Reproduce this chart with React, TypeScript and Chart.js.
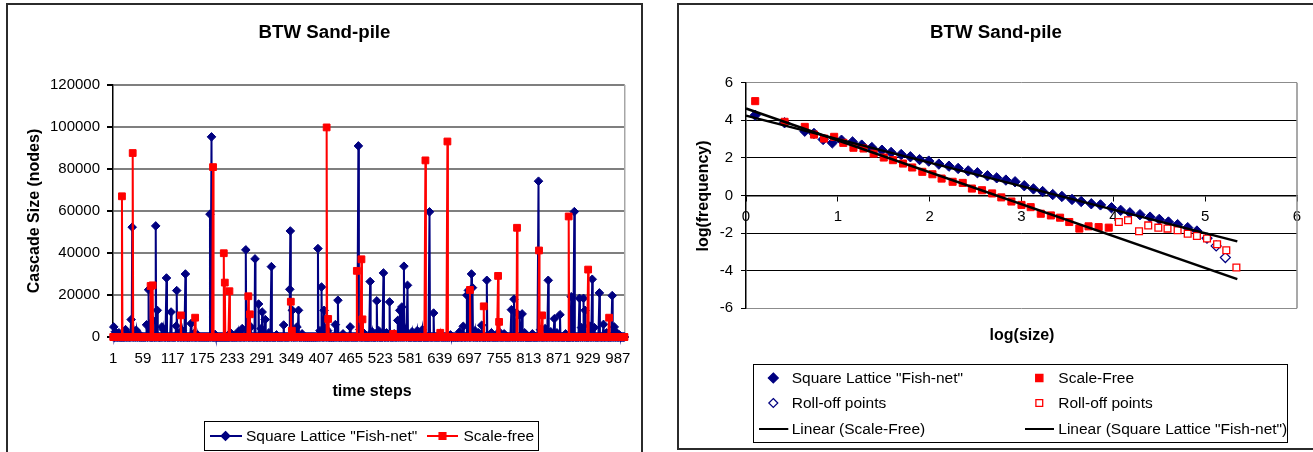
import { useEffect, useRef } from 'react';
import { Chart, registerables } from 'chart.js';

Chart.register(...registerables);

const FONT = "'Liberation Sans', Arial, Helvetica, sans-serif";
const NAVY = '#000080';
const RED = '#ff0000';

// ---------- Left chart: cascade sizes over time ----------
const timeSteps = 1000;
const timeTickLabels = [1, 59, 117, 175, 233, 291, 349, 407, 465, 523, 581, 639, 697, 755, 813, 871, 929, 987];
const cascadeTicks = [0, 20000, 40000, 60000, 80000, 100000, 120000];

// [time step, cascade size]; every other step is 0
const latticeCascades: [number, number][] = [
  [2, 4800], [5, 2500], [8, 1500], [12, 2000], [25, 3500], [30, 1500], [36, 8300], [38, 52300], [42, 2500], [46, 3200],
  [50, 1800], [66, 5800], [70, 22500], [72, 6000], [79, 7800], [84, 52900], [87, 12700], [96, 4800], [99, 3500], [105, 28100],
  [114, 11900], [124, 5200], [125, 22100], [130, 2000], [136, 3000], [142, 30000], [153, 6400], [158, 1500], [166, 1000],
  [190, 58500], [193, 95300], [200, 1200], [230, 2000], [245, 2500], [253, 4000], [260, 41500], [263, 3000], [270, 4800],
  [278, 37200], [285, 15700], [290, 4000], [292, 11900], [298, 8300], [305, 2000], [310, 33500], [320, 1000], [334, 5700],
  [346, 22700], [347, 50500], [351, 12700], [356, 3000], [360, 4800], [363, 12700], [370, 1500], [401, 42100], [405, 3000],
  [408, 23800], [413, 12700], [416, 4000], [420, 3000], [435, 5900], [440, 17500], [450, 1500], [464, 4800], [480, 91000],
  [483, 3500], [490, 2000], [503, 26400], [507, 2500], [516, 17200], [520, 3000], [529, 30500], [535, 2000], [541, 16700],
  [550, 1500], [557, 7900], [561, 12700], [565, 14300], [569, 33700], [572, 3000], [576, 24600], [585, 2500], [595, 3000],
  [605, 3500], [619, 59600], [627, 11400], [640, 1500], [660, 1000], [678, 2500], [685, 5100], [692, 19900], [695, 22200],
  [701, 30000], [703, 23500], [708, 3000], [715, 2000], [721, 5600], [731, 27000], [740, 2000], [755, 2500], [765, 1500],
  [779, 13000], [784, 18000], [789, 11600], [795, 10300], [800, 11000], [805, 2000], [820, 1500], [832, 74200], [836, 3500],
  [845, 4000], [851, 27000], [856, 2500], [863, 8700], [868, 2000], [874, 10600], [885, 1500], [896, 19200], [902, 59700],
  [912, 18400], [916, 4500], [920, 18400], [923, 12700], [932, 5200], [937, 27500], [941, 4500], [951, 21000], [959, 6000],
  [965, 2000], [976, 19700], [980, 4800], [985, 2000], [990, 1000],
];
const scaleFreeCascades: [number, number][] = [
  [18, 67000], [39, 87600], [74, 24300], [78, 24600], [133, 10300], [161, 9200], [196, 80900], [217, 39900], [219, 25900],
  [228, 21800], [265, 19400], [268, 10800], [348, 16800], [350, 3000], [418, 99800], [421, 8600], [477, 31500], [486, 37000],
  [488, 8400], [548, 1500], [611, 84100], [640, 2000], [654, 93100], [698, 22400], [725, 14600], [753, 29100], [755, 7200],
  [790, 52000], [833, 41200], [839, 10300], [891, 57400], [929, 32100], [970, 9200],
];

// ---------- Right chart: log-log distribution ----------
const latticeLogSize = [0.10, 0.42, 0.64, 0.74, 0.84, 0.94, 1.04, 1.16, 1.26, 1.37, 1.48, 1.58, 1.69, 1.79, 1.89, 1.99, 2.10, 2.21, 2.31, 2.42, 2.52, 2.63, 2.73, 2.83, 2.93, 3.03, 3.13, 3.23, 3.34, 3.44, 3.55, 3.65, 3.76, 3.86, 3.98, 4.08, 4.18, 4.29, 4.40, 4.50, 4.60, 4.70, 4.81, 4.91];
const latticeLogFreq = [4.27, 3.87, 3.42, 3.30, 2.98, 2.80, 2.94, 2.85, 2.68, 2.55, 2.41, 2.29, 2.18, 2.06, 1.91, 1.83, 1.67, 1.56, 1.44, 1.31, 1.21, 1.05, 0.94, 0.82, 0.73, 0.52, 0.35, 0.21, 0.05, -0.05, -0.21, -0.32, -0.44, -0.50, -0.65, -0.79, -0.92, -1.02, -1.15, -1.27, -1.41, -1.55, -1.71, -1.89];
const latticeRollSize = [5.02, 5.12, 5.22];
const latticeRollFreq = [-2.27, -2.68, -3.30];
const scaleFreeLogSize = [0.10, 0.42, 0.64, 0.74, 0.85, 0.96, 1.06, 1.17, 1.28, 1.39, 1.50, 1.60, 1.71, 1.81, 1.92, 2.03, 2.13, 2.25, 2.36, 2.46, 2.57, 2.68, 2.78, 2.89, 3.00, 3.10, 3.21, 3.32, 3.42, 3.52, 3.63, 3.73, 3.84, 3.95];
const scaleFreeLogFreq = [5.02, 3.92, 3.65, 3.24, 3.03, 3.12, 2.80, 2.54, 2.50, 2.23, 2.02, 1.88, 1.70, 1.49, 1.26, 1.13, 0.90, 0.73, 0.67, 0.37, 0.28, 0.11, -0.10, -0.32, -0.50, -0.62, -0.97, -1.06, -1.18, -1.41, -1.76, -1.64, -1.68, -1.71];
const scaleFreeRollSize = [4.06, 4.16, 4.28, 4.38, 4.49, 4.59, 4.70, 4.81, 4.91, 5.02, 5.13, 5.23, 5.34];
const scaleFreeRollFreq = [-1.41, -1.32, -1.90, -1.59, -1.71, -1.76, -1.85, -2.03, -2.15, -2.29, -2.59, -2.91, -3.83];
const scaleFreeTrendSize = [0, 5.35];
const scaleFreeTrendFreq = [4.63, -4.45];
const latticeTrendSize = [0, 5.35];
const latticeTrendFreq = [4.25, -2.44];
const logSizeTicks = [0, 1, 2, 3, 4, 5, 6];
const logFreqTicks = [-6, -4, -2, 0, 2, 4, 6];

function expandSeries(spikes: [number, number][]) {
  const byStep = new Map<number, number>(spikes);
  const pts: { x: number; y: number }[] = [];
  for (let s = 1; s <= timeSteps; s++) pts.push({ x: s, y: byStep.get(s) ?? 0 });
  return pts;
}
function zip(xs: number[], ys: number[]) {
  return xs.map((x, i) => ({ x, y: ys[i] }));
}

function diamond(ctx: CanvasRenderingContext2D, x: number, y: number, r: number, fill: string | null, stroke: string) {
  ctx.beginPath();
  ctx.moveTo(x, y - r);
  ctx.lineTo(x + r, y);
  ctx.lineTo(x, y + r);
  ctx.lineTo(x - r, y);
  ctx.closePath();
  if (fill) { ctx.fillStyle = fill; ctx.fill(); }
  ctx.strokeStyle = stroke;
  ctx.lineWidth = 1.2;
  ctx.stroke();
}
function square(ctx: CanvasRenderingContext2D, x: number, y: number, h: number, fill: string | null, stroke: string) {
  ctx.beginPath();
  ctx.rect(x - h, y - h, 2 * h, 2 * h);
  if (fill) { ctx.fillStyle = fill; ctx.fill(); }
  ctx.strokeStyle = stroke;
  ctx.lineWidth = 1.3;
  ctx.stroke();
}
function hline(ctx: CanvasRenderingContext2D, x1: number, x2: number, y: number, color: string, w = 2) {
  ctx.beginPath();
  ctx.moveTo(x1, y);
  ctx.lineTo(x2, y);
  ctx.strokeStyle = color;
  ctx.lineWidth = w;
  ctx.stroke();
}
function vtext(ctx: CanvasRenderingContext2D, text: string, x: number, y: number) {
  ctx.save();
  ctx.translate(x, y);
  ctx.rotate(-Math.PI / 2);
  ctx.textAlign = 'center';
  ctx.fillText(text, 0, 0);
  ctx.restore();
}

const leftDecor = {
  id: 'leftDecor',
  beforeDatasetsDraw(chart: any) {
    const { ctx, chartArea: a } = chart;
    ctx.save();
    ctx.beginPath();
    ctx.moveTo(a.right, a.top);
    ctx.lineTo(a.right, a.bottom);
    ctx.strokeStyle = '#a6a6a6';
    ctx.lineWidth = 1.5;
    ctx.stroke();
    ctx.restore();
  },
  afterDraw(chart: any) {
    const ctx: CanvasRenderingContext2D = chart.ctx;
    ctx.save();
    ctx.fillStyle = '#000';
    ctx.textBaseline = 'alphabetic';
    ctx.textAlign = 'center';
    ctx.font = `bold 18.7px ${FONT}`;
    ctx.fillText('BTW Sand-pile', 317.5, 33.5);
    ctx.font = `bold 16px ${FONT}`;
    ctx.fillText('time steps', 365, 392);
    vtext(ctx, 'Cascade Size (nodes)', 31.5, 207);
    // legend
    ctx.strokeStyle = '#000';
    ctx.lineWidth = 1;
    ctx.strokeRect(197.5, 417.5, 334, 29);
    hline(ctx, 203, 235, 432, NAVY);
    diamond(ctx, 218.5, 432, 4.5, NAVY, NAVY);
    hline(ctx, 420, 451, 432, RED);
    square(ctx, 435.5, 432, 3.4, RED, RED);
    ctx.fillStyle = '#000';
    ctx.textAlign = 'left';
    ctx.font = `15.5px ${FONT}`;
    ctx.fillText('Square Lattice "Fish-net"', 239, 437);
    ctx.fillText('Scale-free', 456.5, 437);
    ctx.restore();
  },
};

const rightDecor = {
  id: 'rightDecor',
  beforeDatasetsDraw(chart: any) {
    const { ctx, chartArea: a } = chart;
    ctx.save();
    ctx.beginPath();
    ctx.moveTo(a.right, a.top);
    ctx.lineTo(a.right, a.bottom);
    ctx.strokeStyle = '#8c8c8c';
    ctx.lineWidth = 1.5;
    ctx.stroke();
    ctx.restore();
  },
  afterDraw(chart: any) {
    const ctx: CanvasRenderingContext2D = chart.ctx;
    ctx.save();
    ctx.fillStyle = '#000';
    ctx.textBaseline = 'alphabetic';
    ctx.textAlign = 'center';
    ctx.font = `bold 18.7px ${FONT}`;
    ctx.fillText('BTW Sand-pile', 316, 32.5);
    ctx.font = `bold 16px ${FONT}`;
    ctx.fillText('log(size)', 342, 334.5);
    vtext(ctx, 'log(frequency)', 28, 191);
    // legend
    ctx.strokeStyle = '#000';
    ctx.lineWidth = 1;
    ctx.strokeRect(73.5, 359.5, 534, 78);
    diamond(ctx, 93.3, 373, 5, NAVY, NAVY);
    diamond(ctx, 93.3, 398, 4.5, '#fff', NAVY);
    hline(ctx, 79, 108.3, 424, '#000');
    square(ctx, 359.3, 373, 3.6, RED, RED);
    square(ctx, 359.3, 398, 3.4, '#fff', RED);
    hline(ctx, 345, 374, 424, '#000');
    ctx.fillStyle = '#000';
    ctx.textAlign = 'left';
    ctx.font = `15.5px ${FONT}`;
    ctx.fillText('Square Lattice "Fish-net"', 111.7, 378);
    ctx.fillText('Roll-off points', 111.7, 402.5);
    ctx.fillText('Linear (Scale-Free)', 111.7, 428.5);
    ctx.fillText('Scale-Free', 378.3, 378);
    ctx.fillText('Roll-off points', 378.3, 402.5);
    ctx.fillText('Linear (Square Lattice "Fish-net")', 378.3, 428.5);
    ctx.restore();
  },
};

const tickFont = { family: FONT, size: 15 };

function LeftChart() {
  const ref = useRef<HTMLCanvasElement>(null);
  useEffect(() => {
    const chart = new Chart(ref.current!, {
      type: 'line',
      data: {
        datasets: [
          {
            label: 'Square Lattice "Fish-net"',
            data: expandSeries(latticeCascades),
            borderColor: NAVY,
            backgroundColor: NAVY,
            borderWidth: 2,
            pointStyle: 'rectRot',
            pointRadius: 4.3,
            pointBorderWidth: 1,
            pointBackgroundColor: NAVY,
            pointBorderColor: NAVY,
            tension: 0,
            clip: false as any,
            order: 1,
          },
          {
            label: 'Scale-free',
            data: expandSeries(scaleFreeCascades),
            borderColor: RED,
            backgroundColor: RED,
            borderWidth: 2,
            pointStyle: 'rect',
            pointRadius: 4.8,
            pointBorderWidth: 1,
            pointBackgroundColor: RED,
            pointBorderColor: RED,
            tension: 0,
            clip: false as any,
            order: 0,
          },
        ],
      },
      options: {
        animation: false,
        responsive: false,
        events: [],
        layout: { padding: { left: 0, top: 81, right: 12, bottom: 0 } },
        plugins: { legend: { display: false }, title: { display: false }, tooltip: { enabled: false } },
        scales: {
          x: {
            type: 'linear',
            min: 0.5,
            max: timeSteps + 0.5,
            afterBuildTicks: (s: any) => { s.ticks = timeTickLabels.map((v) => ({ value: v })); },
            afterFit: (s: any) => { s.height = 115; },
            grid: { display: false, drawTicks: false },
            border: { display: true, color: '#000', width: 1.5 },
            ticks: { autoSkip: false, maxRotation: 0, minRotation: 0, padding: 12.5, color: '#000', font: tickFont, callback: (v: any) => String(v) },
          },
          y: {
            min: 0,
            max: 120000,
            afterBuildTicks: (s: any) => { s.ticks = cascadeTicks.map((v) => ({ value: v })); },
            afterFit: (s: any) => { s.width = 106; },
            grid: { color: '#7f7f7f', lineWidth: 2, tickColor: '#000', tickLength: 6 },
            border: { display: true, color: '#000', width: 1.5 },
            ticks: { padding: 7, color: '#000', font: tickFont, callback: (v: any) => String(v) },
          },
        },
      },
      plugins: [leftDecor],
    } as any);
    return () => chart.destroy();
  }, []);
  return <canvas ref={ref} width={636} height={448} style={{ position: 'absolute', left: 7, top: 4, width: 636, height: 448 }} />;
}

function RightChart() {
  const ref = useRef<HTMLCanvasElement>(null);
  useEffect(() => {
    const chart = new Chart(ref.current!, {
      type: 'scatter',
      data: {
        datasets: [
          { label: 'Linear (Scale-Free)', data: zip(scaleFreeTrendSize, scaleFreeTrendFreq), showLine: true, borderColor: '#000', borderWidth: 2.5, pointRadius: 0, clip: false as any, order: 0 },
          { label: 'Linear (Square Lattice "Fish-net")', data: zip(latticeTrendSize, latticeTrendFreq), showLine: true, borderColor: '#000', borderWidth: 2.5, pointRadius: 0, clip: false as any, order: 0 },
          { label: 'Roll-off points', data: zip(scaleFreeRollSize, scaleFreeRollFreq), pointStyle: 'rect', pointRadius: 4.8, pointBorderWidth: 1.3, pointBackgroundColor: '#fff', pointBorderColor: RED, clip: false as any, order: 1 },
          { label: 'Scale-Free', data: zip(scaleFreeLogSize, scaleFreeLogFreq), pointStyle: 'rect', pointRadius: 5, pointBorderWidth: 1, pointBackgroundColor: RED, pointBorderColor: RED, clip: false as any, order: 2 },
          { label: 'Roll-off points', data: zip(latticeRollSize, latticeRollFreq), pointStyle: 'rectRot', pointRadius: 5, pointBorderWidth: 1.2, pointBackgroundColor: '#fff', pointBorderColor: NAVY, clip: false as any, order: 3 },
          { label: 'Square Lattice "Fish-net"', data: zip(latticeLogSize, latticeLogFreq), pointStyle: 'rectRot', pointRadius: 5.2, pointBorderWidth: 1, pointBackgroundColor: NAVY, pointBorderColor: NAVY, clip: false as any, order: 4 },
        ],
      },
      options: {
        animation: false,
        responsive: false,
        events: [],
        layout: { padding: { left: 0, top: 77.7, right: 16, bottom: 138.7 } },
        plugins: { legend: { display: false }, title: { display: false }, tooltip: { enabled: false } },
        scales: {
          x: {
            type: 'linear',
            position: { y: 0 } as any,
            min: 0,
            max: 6,
            afterBuildTicks: (s: any) => { s.ticks = logSizeTicks.map((v) => ({ value: v })); },
            grid: { drawOnChartArea: false, color: '#000', tickColor: '#000', tickLength: 5 },
            border: { display: true, color: '#000', width: 1.5 },
            ticks: { padding: 7.5, color: '#000', font: tickFont, maxRotation: 0, callback: (v: any) => String(v) },
          },
          y: {
            min: -6,
            max: 6,
            afterBuildTicks: (s: any) => { s.ticks = logFreqTicks.map((v) => ({ value: v })); },
            afterFit: (s: any) => { s.width = 66; },
            grid: {
              color: (c: any) => (c.tick && (c.tick.value === 6 || c.tick.value === -6) ? '#8c8c8c' : '#000'),
              lineWidth: 1,
              tickColor: '#000',
              tickLength: 5,
            },
            border: { display: true, color: '#000', width: 1.5 },
            ticks: { padding: 8, color: '#000', font: tickFont, callback: (v: any) => String(v) },
          },
        },
      },
      plugins: [rightDecor],
    } as any);
    return () => chart.destroy();
  }, []);
  return <canvas ref={ref} width={633} height={442} style={{ position: 'absolute', left: 680, top: 5, width: 633, height: 442 }} />;
}

export default function App() {
  return (
    <div style={{ position: 'absolute', left: 0, top: 0, width: 1313, height: 452, overflow: 'hidden', background: '#fff' }}>
      <div style={{ position: 'absolute', left: 6, top: 3, width: 637, height: 480, boxSizing: 'border-box', border: '2px solid #2b2b2b' }} />
      <div style={{ position: 'absolute', left: 677, top: 3, width: 700, height: 447, boxSizing: 'border-box', border: '2px solid #2b2b2b' }} />
      <LeftChart />
      <RightChart />
    </div>
  );
}
